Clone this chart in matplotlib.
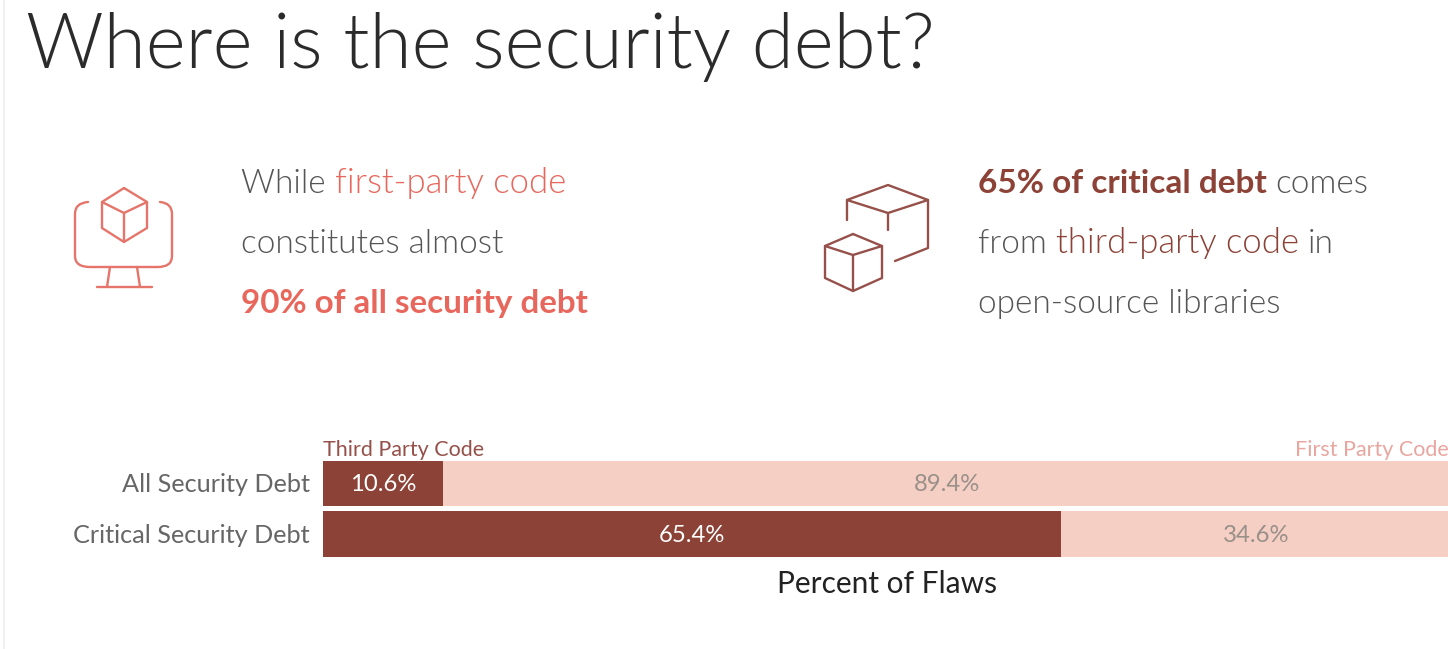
import matplotlib
matplotlib.use('Agg')
import matplotlib.pyplot as plt
from matplotlib.path import Path
from matplotlib.patches import PathPatch
from matplotlib.transforms import ScaledTranslation

categories = ['All Security Debt', 'Critical Security Debt']
third_party = [10.6, 65.4]
first_party = [89.4, 34.6]

dark_red = '#8c4236'
light_red = '#f5cfc4'
salmon = '#e8675c'
grey_text = '#555555'

plt.rcParams['font.family'] = ['Lato', 'DejaVu Sans']

W, H = 1448, 649
fig = plt.figure(figsize=(W / 100, H / 100), dpi=100)

# pixel-space layer for the headline, blurbs and icons
bg = fig.add_axes([0, 0, 1, 1])
bg.set_xlim(0, W)
bg.set_ylim(H, 0)
bg.axis('off')

bg.plot([4, 4], [0, H], color='#f0f0f0', lw=1.5)
bg.text(26, 47, 'Where is the security debt?', fontsize=55, fontweight=300,
        color='#2b2b2b', va='center', ha='left')


def rich_line(x, y, parts):
    # chain coloured runs of text along one baseline
    renderer = fig.canvas.get_renderer()
    for text, color, weight, size in parts:
        t = bg.text(x, y, text, fontsize=size, color=color, fontweight=weight,
                    va='baseline', ha='left')
        x += t.get_window_extent(renderer).width


light = 300
rich_line(241, 193, [('While ', grey_text, light, 24), ('first-party code', salmon, light, 25)])
rich_line(241, 253, [('constitutes almost', grey_text, light, 24)])
rich_line(241, 313, [('90% of all security debt', salmon, 'bold', 23.9)])

rich_line(978, 193, [('65% of critical debt ', dark_red, 'bold', 24), ('comes', grey_text, light, 24)])
rich_line(978, 253, [('from ', grey_text, light, 24), ('third-party code ', dark_red, light, 25),
                     ('in', grey_text, light, 24)])
rich_line(978, 313, [('open-source libraries', grey_text, light, 24)])


def stroke(points, color, curved=False):
    if curved:
        verts = [points[0]]
        codes = [Path.MOVETO]
        for ctrl, end in points[1:]:
            verts += [ctrl, end]
            codes += [Path.CURVE3, Path.CURVE3]
    else:
        verts, codes = points, None
    bg.add_patch(PathPatch(Path(verts, codes), fill=False, edgecolor=color, lw=1.7,
                           capstyle='round', joinstyle='round'))


# monitor with a cube on screen
icon1 = '#e5746a'
stroke([(124, 188), (147, 202), (147, 228), (124, 242), (102, 228), (102, 202), (124, 188)], icon1)
stroke([(102, 202), (124, 213), (147, 202)], icon1)
stroke([(124, 213), (124, 242)], icon1)
stroke([(88, 202), ((75, 203), (75, 214)), ((75, 235), (75, 256)), ((75, 267), (90, 267)),
        ((124, 267), (158, 267)), ((172, 267), (172, 256)), ((172, 235), (172, 214)),
        ((172, 203), (160, 202))], icon1, curved=True)
stroke([(110, 267), (107, 287)], icon1)
stroke([(137, 267), (140, 287)], icon1)
stroke([(97, 287), (152, 287)], icon1)

# pair of cubes
icon2 = '#96504a'
stroke([(847, 220), (847, 200), (888, 185), (928, 200), (928, 248), (895, 261)], icon2)
stroke([(847, 200), (888, 213), (928, 200)], icon2)
stroke([(888, 213), (888, 230)], icon2)
stroke([(853, 234), (882, 246), (882, 278), (853, 291), (825, 278), (825, 246), (853, 234)], icon2)
stroke([(825, 246), (853, 255), (882, 246)], icon2)
stroke([(853, 255), (853, 291)], icon2)

# stacked bars
ax = fig.add_axes([323 / W, 1 - 558 / H, (W - 323) / W, (558 - 460) / H])
ypos = [0, 1]
ax.barh(ypos, third_party, height=0.9, color=dark_red)
ax.barh(ypos, first_party, left=third_party, height=0.9, color=light_red)
ax.set_xlim(0, 99.75)
ax.set_ylim(1.475, -0.465)
ax.set_yticks(ypos, categories)
ax.tick_params(axis='y', length=0, pad=9.4, labelsize=18.2, labelcolor='#666666')
ax.set_xticks([])
for side in ax.spines.values():
    side.set_visible(False)
nudge = ScaledTranslation(0, 1 / 100, fig.dpi_scale_trans)
for label in ax.get_yticklabels():
    label.set_transform(label.get_transform() + nudge)

for i in ypos:
    ax.text(third_party[i] / 2, i + 0.025, f'{third_party[i]}%', color='white', fontsize=17.2,
            ha='center', va='center')
    ax.text(third_party[i] + first_party[i] / 2, i + 0.025, f'{first_party[i]}%', color='#999089',
            fontsize=17.2, ha='center', va='center')

bg.text(323, 450, 'Third Party Code', color='#96504a', fontsize=15.5, ha='left', va='center')
bg.text(1449, 450, 'First Party Code', color='#e9a6a0', fontsize=15.5, ha='right', va='center')
bg.text(887, 584, 'Percent of Flaws', fontsize=21.5, color='#222222', ha='center', va='center')

fig.savefig('out.png', dpi=100)
